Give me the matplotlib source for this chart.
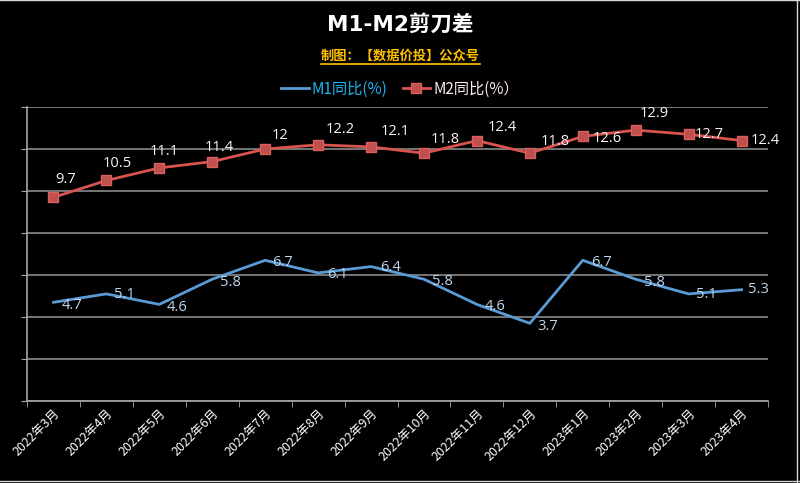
import matplotlib
matplotlib.use("Agg")
import matplotlib.pyplot as plt
from matplotlib.lines import Line2D
import numpy as np

months = ["2022年3月", "2022年4月", "2022年5月", "2022年6月", "2022年7月", "2022年8月",
          "2022年9月", "2022年10月", "2022年11月", "2022年12月", "2023年1月", "2023年2月",
          "2023年3月", "2023年4月"]
m1 = [4.7, 5.1, 4.6, 5.8, 6.7, 6.1, 6.4, 5.8, 4.6, 3.7, 6.7, 5.8, 5.1, 5.3]
m2 = [9.7, 10.5, 11.1, 11.4, 12, 12.2, 12.1, 11.8, 12.4, 11.8, 12.6, 12.9, 12.7, 12.4]
m1_name = "M1同比(%)"
m2_name = "M2同比(%）"
title = "M1-M2剪刀差"
subtitle = "制图：【数据价投】公众号"

# label offsets in pixels (dx, dy up)
m2_off = [(12, 18), (11, 17), (5, 16), (7, 14), (15, 13), (22, 15), (24, 15), (21, 14),
          (25, 13), (25, 12), (24, -2), (19, 17), (21, 0), (24, 0)]
m1_off = [(19, -3), (18, -1), (18, -3), (18, -3), (17, -2), (19, -2), (19, -1), (18, -2),
          (18, -2), (18, -3), (19, -2), (19, -3), (18, -1), (17, 0)]

FONT = ["Open Sans", "Noto Sans CJK SC", "DejaVu Sans"]
plt.rcParams["font.family"] = FONT

W, H = 800, 483
fig = plt.figure(figsize=(W / 100, H / 100), dpi=100, facecolor="black")

ax = fig.add_axes([27 / W, 1 - 401 / H, (768 - 27) / W, (401 - 107) / H])
ax.set_facecolor("black")

x = np.arange(len(months))
ax.plot(x, m1, color="#5B9BD5", lw=2, zorder=3)
ax.plot(x, m2, color="#D9534F", lw=2, marker="s", markersize=7,
        markerfacecolor="#C0504D", markeredgecolor="#D9605C", zorder=3)

for i, v in enumerate(m2):
    dx, dy = m2_off[i]
    ax.annotate(f"{v:g}", (x[i], v), xytext=(dx * 0.72, dy * 0.72), textcoords="offset points",
                ha="center", va="center", color="#FFF2F2", fontsize=10.5)
for i, v in enumerate(m1):
    dx, dy = m1_off[i]
    ax.annotate(f"{v:g}", (x[i], v), xytext=(dx * 0.72, dy * 0.72), textcoords="offset points",
                ha="center", va="center", color="#BDD7EE", fontsize=10.5)

ax.set_xlim(-0.5, len(months) - 0.5)
ax.set_ylim(0, 14)
ax.set_yticks(np.arange(0, 15, 2))
ax.yaxis.grid(True, color="#7F7F7F", lw=1.3)
ax.set_axisbelow(True)
ax.tick_params(axis="y", length=4, color="#A6A6A6", labelleft=False, direction="out")

ax.set_xticks(x)
ax.set_xticklabels(months, rotation=45, ha="right", va="top", rotation_mode="anchor",
                   color="white", fontsize=9, family=["Noto Sans CJK SC", "DejaVu Sans"])
ax.tick_params(axis="x", length=0, pad=4)
ax.set_xticks(np.arange(-0.5, len(months), 1), minor=True)
ax.tick_params(axis="x", which="minor", length=4, color="#A6A6A6", direction="out")

for s in ["top", "right"]:
    ax.spines[s].set_visible(False)
for s in ["left", "bottom"]:
    ax.spines[s].set_color("#A6A6A6")
    ax.spines[s].set_linewidth(1.2)

fig.text(0.5, 1 - 24 / H, title, ha="center", va="center", color="white",
         fontsize=15.5, fontweight="bold", family=["DejaVu Sans", "Noto Sans CJK SC"])
st = fig.text(0.5, 1 - 56 / H, subtitle, ha="center", va="center", color="#FFC000",
              fontsize=9.5, fontweight="bold", family=["Noto Sans CJK SC", "DejaVu Sans"])

handles = [Line2D([], [], color="#5B9BD5", lw=2),
           Line2D([], [], color="#D9534F", lw=2, marker="s", markersize=7,
                  markerfacecolor="#C0504D", markeredgecolor="#D9605C")]
leg = fig.legend(handles, [m1_name, m2_name], loc="center", bbox_to_anchor=(0.5, 1 - 89 / H),
                 ncol=2, frameon=False, handlelength=1.8, handletextpad=0.2,
                 columnspacing=1.0, prop={"family": ["Noto Sans CJK SC", "DejaVu Sans"], "size": 11})
leg.get_texts()[0].set_color("#1EB4F0")
leg.get_texts()[1].set_color("#FFEAEA")

# underline for subtitle
fig.canvas.draw()
bb = st.get_window_extent(renderer=fig.canvas.get_renderer())
yline = (bb.y0 - 1) / H
fig.add_artist(Line2D([bb.x0 / W, bb.x1 / W], [yline, yline], color="#FFC000", lw=1.2,
                      transform=fig.transFigure))

# thin light frame lines at edges
fig.add_artist(Line2D([0, 1], [0.999, 0.999], color="#D9D9D9", lw=1, transform=fig.transFigure))
fig.add_artist(Line2D([0, 1], [0.004, 0.004], color="#D9D9D9", lw=1, transform=fig.transFigure))
fig.add_artist(Line2D([0.996, 0.996], [0, 1], color="#D9D9D9", lw=1, transform=fig.transFigure))

fig.savefig("out.png", dpi=100, facecolor="black")
